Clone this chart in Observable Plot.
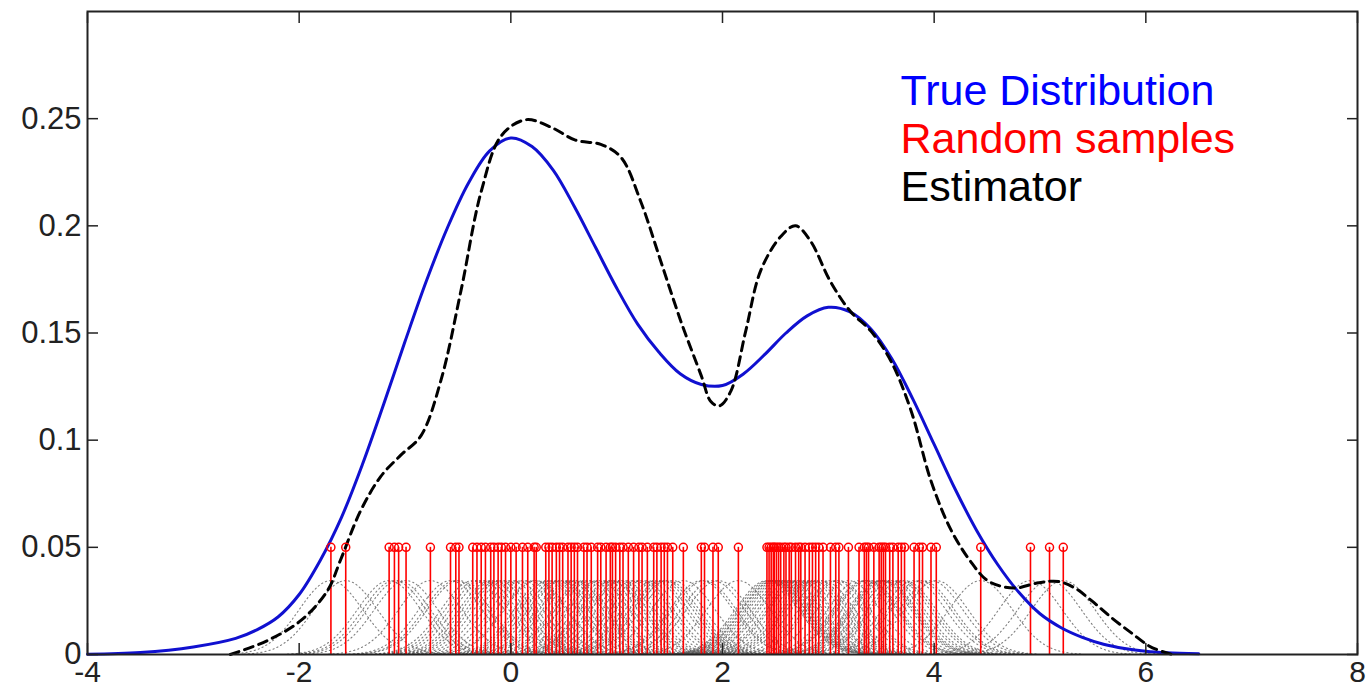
<!DOCTYPE html>
<html><head><meta charset="utf-8">
<script src="https://cdn.jsdelivr.net/npm/d3@7"></script>
<script src="https://cdn.jsdelivr.net/npm/@observablehq/plot@0.6"></script>
<style>
html,body{margin:0;padding:0;background:#fff;}
#chart{width:1368px;height:690px;overflow:hidden;}
</style></head><body><div id="chart"></div>
<script>
// ---- data ----
const xTicks = [-4, -2, 0, 2, 4, 6, 8];
const yTicks = [0, 0.05, 0.1, 0.15, 0.2, 0.25];

const samples = [
  -1.70, -1.56, -1.15, -1.10, -1.06, -0.99, -0.76, -0.57, -0.52, -0.49,
  -0.36, -0.32, -0.28, -0.24, -0.19, -0.16, -0.12, -0.09, -0.05, 0.00,
  0.05, 0.11, 0.16, 0.22, 0.24, 0.33, 0.36, 0.39, 0.43, 0.46,
  0.49, 0.54, 0.57, 0.60, 0.63, 0.69, 0.72, 0.76, 0.82, 0.85,
  0.90, 0.94, 0.96, 0.99, 1.03, 1.06, 1.11, 1.16, 1.21, 1.24,
  1.29, 1.35, 1.38, 1.42, 1.45, 1.48, 1.53, 1.63, 1.80, 1.83,
  1.91, 1.96, 2.15, 2.42, 2.44, 2.46, 2.48, 2.49, 2.51, 2.53,
  2.55, 2.58, 2.60, 2.63, 2.65, 2.69, 2.72, 2.74, 2.78, 2.82,
  2.85, 2.88, 2.91, 2.95, 3.02, 3.07, 3.10, 3.19, 3.29, 3.34,
  3.36, 3.38, 3.43, 3.48, 3.50, 3.52, 3.54, 3.58, 3.61, 3.66,
  3.69, 3.72, 3.81, 3.86, 3.89, 3.97, 4.02, 4.44, 4.91, 5.09, 5.22
];

const trueX = [-4.0, -3.5, -3.0, -2.6, -2.4, -2.2, -2.0, -1.8, -1.6, -1.4, -1.2, -1.0, -0.8, -0.6, -0.4, -0.2,
  0.0, 0.2, 0.4, 0.6, 0.8, 1.0, 1.2, 1.4, 1.6, 1.8, 2.0, 2.2, 2.4, 2.6, 2.8, 3.0, 3.2, 3.4, 3.6, 3.8,
  4.0, 4.2, 4.4, 4.6, 4.8, 5.0, 5.2, 5.4, 5.6, 5.8, 6.0, 6.2, 6.5];
const trueY = [0.0001, 0.0009, 0.0035, 0.0075, 0.0115, 0.0175, 0.0280, 0.0440, 0.0640, 0.0890, 0.1170, 0.1460, 0.1740, 0.1990, 0.2200, 0.2350,
  0.2410, 0.2370, 0.2260, 0.2090, 0.1900, 0.1710, 0.1540, 0.1410, 0.1310, 0.1260, 0.1255, 0.1310, 0.1400, 0.1500, 0.1580, 0.1620, 0.1600, 0.1520, 0.1380, 0.1190,
  0.0980, 0.0770, 0.0580, 0.0420, 0.0290, 0.0190, 0.0125, 0.0080, 0.0048, 0.0028, 0.0015, 0.0008, 0.0003];

const estX = [-2.65, -2.30, -1.98, -1.73, -1.61, -1.42, -1.23, -1.04, -0.85, -0.66, -0.47, -0.28, -0.09,
  0.14, 0.38, 0.61, 0.85, 1.04, 1.23, 1.42, 1.61, 1.80, 1.89, 1.97, 2.08, 2.22, 2.36, 2.55, 2.69, 2.83,
  3.02, 3.21, 3.40, 3.59, 3.78, 3.97, 4.16, 4.35, 4.49, 4.62, 4.77, 4.99, 5.18, 5.33, 5.49, 5.68, 5.87, 6.03, 6.12, 6.25];
const estY = [0.0, 0.0065, 0.016, 0.030, 0.044, 0.067, 0.083, 0.093, 0.102, 0.128, 0.170, 0.216, 0.242,
  0.2495, 0.246, 0.240, 0.238, 0.232, 0.211, 0.183, 0.155, 0.130, 0.118, 0.116, 0.123, 0.151, 0.179, 0.195, 0.200, 0.193,
  0.174, 0.160, 0.151, 0.137, 0.114, 0.081, 0.058, 0.043, 0.035, 0.032, 0.031, 0.0335, 0.034, 0.031, 0.025, 0.017, 0.0098, 0.004, 0.002, 0.0];

const legendLabels = ["True Distribution", "Random samples", "Estimator"];
const legendColors = ["#0000ff", "#ff0000", "#000000"];

const STEM_HEIGHT = 0.05;   // height of the sample stems
const KERNEL_PEAK = 0.0345; // drawn height of each gray kernel
const BANDWIDTH = 0.3;      // kernel width

// ---- build tables ----
const trueData = trueX.map((x, i) => ({x, y: trueY[i]}));
const estData = estX.map((x, i) => ({x, y: estY[i]}));
const stemData = samples.map(s => ({x: s}));
const kernelData = [];
samples.forEach((s, k) => {
  for (let t = -3.2; t <= 3.2001; t += 0.1) {
    kernelData.push({k, x: s + t * BANDWIDTH, y: KERNEL_PEAK * Math.exp(-t * t / 2)});
  }
});

const font = "'Liberation Sans', Arial, sans-serif";
const legendRowDy = [80, 128, 176];

const chart = Plot.plot({
  width: 1368,
  height: 690,
  marginLeft: 87,
  marginRight: 11,
  marginTop: 11,
  marginBottom: 36,
  style: {fontFamily: font, background: "#fff"},
  x: {domain: [-4, 8]},
  y: {domain: [0, 0.3]},
  marks: [
    // gray dotted kernels
    Plot.line(kernelData, {x: "x", y: "y", z: "k", stroke: "#555", strokeWidth: 1.1, strokeDasharray: "1.2,3", strokeOpacity: 0.75, curve: "linear"}),
    // sample stems
    Plot.ruleX(stemData, {x: "x", y1: 0, y2: STEM_HEIGHT, stroke: "#ff0000", strokeWidth: 1.6}),
    // true distribution
    Plot.line(trueData, {x: "x", y: "y", stroke: "#1010d0", strokeWidth: 3, curve: "catmull-rom"}),
    // estimator
    Plot.line(estData, {x: "x", y: "y", stroke: "#000", strokeWidth: 3, strokeDasharray: "9,6", curve: "catmull-rom"}),
    // stem heads
    Plot.dot(stemData, {x: "x", y: STEM_HEIGHT, r: 4, stroke: "#ff0000", strokeWidth: 1.5, fill: "none"}),
    // axes: labels
    Plot.axisX(xTicks, {anchor: "bottom", label: null, tickSize: 0, tickPadding: 6, fontSize: 30, fill: "#222", tickFormat: d => String(d)}),
    Plot.axisY(yTicks, {anchor: "left", label: null, tickSize: 0, tickPadding: 6, fontSize: 31, fill: "#222", tickFormat: d => String(d)}),
    // inward ticks on all four sides
    Plot.axisX(xTicks, {anchor: "bottom", label: null, tickSize: -11, tickFormat: () => "", stroke: "#222", strokeWidth: 1.5}),
    Plot.axisX(xTicks, {anchor: "top", label: null, tickSize: -11, tickFormat: () => "", stroke: "#222", strokeWidth: 1.5}),
    Plot.axisY(yTicks, {anchor: "left", label: null, tickSize: -11, tickFormat: () => "", stroke: "#222", strokeWidth: 1.5}),
    Plot.axisY(yTicks, {anchor: "right", label: null, tickSize: -11, tickFormat: () => "", stroke: "#222", strokeWidth: 1.5}),
    Plot.frame({stroke: "#222", strokeWidth: 2}),
    // legend, one row per entry
    ...legendLabels.map((label, i) =>
      Plot.text([label], {frameAnchor: "top-left", text: d => d, fill: legendColors[i], fontSize: 43,
        textAnchor: "start", lineAnchor: "middle", dx: 813, dy: legendRowDy[i], fontFamily: font}))
  ]
});

document.getElementById("chart").appendChild(chart);
</script>
</body></html>
